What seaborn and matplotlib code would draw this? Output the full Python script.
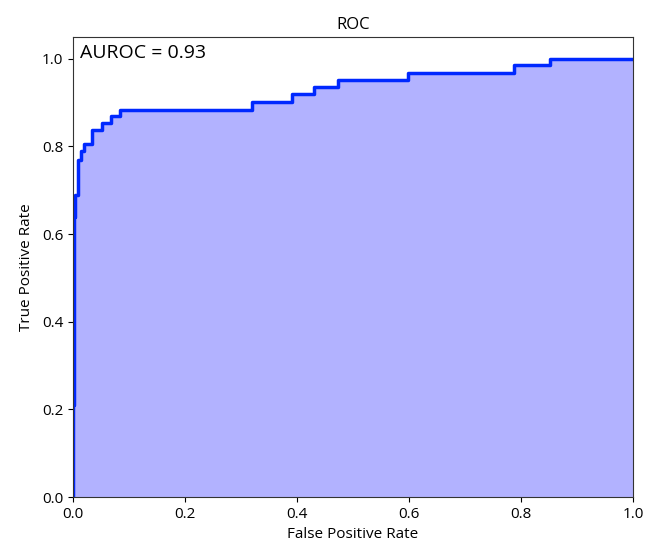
import numpy as np
import pandas as pd
import matplotlib
matplotlib.use("Agg")
import matplotlib.pyplot as plt
import seaborn as sns

# ROC vertices
fpr = [0.0, 0.0, 0.002, 0.002, 0.004, 0.004, 0.009, 0.009, 0.014, 0.014,
       0.020, 0.020, 0.034, 0.034, 0.052, 0.052, 0.068, 0.068, 0.084, 0.084,
       0.320, 0.320, 0.391, 0.391, 0.430, 0.430, 0.473, 0.473, 0.598, 0.598,
       0.788, 0.788, 0.852, 0.852, 1.0]
tpr = [0.0, 0.21, 0.21, 0.64, 0.64, 0.69, 0.69, 0.77, 0.77, 0.79,
       0.79, 0.806, 0.806, 0.838, 0.838, 0.854, 0.854, 0.870, 0.870, 0.884,
       0.884, 0.902, 0.902, 0.920, 0.920, 0.936, 0.936, 0.952, 0.952, 0.968,
       0.968, 0.986, 0.986, 1.0, 1.0]
auroc = 0.93

sns.set_style("ticks", {'text.color': 'black', 'axes.labelcolor': 'black',
                        'xtick.color': 'black', 'ytick.color': 'black',
                        'axes.edgecolor': '#333333'})
plt.rcParams['font.family'] = ['Open Sans', 'DejaVu Sans']

df = pd.DataFrame({'fpr': fpr, 'tpr': tpr})

fig = plt.figure(figsize=(6.6, 5.51), dpi=100)
ax = fig.add_axes([0.1106, 0.098, 0.8485, 0.835])
ax.fill_between(df['fpr'], df['tpr'], color='blue', alpha=0.3, linewidth=0)
sns.lineplot(data=df, x='fpr', y='tpr', sort=False, estimator=None,
             color='#0028ff', linewidth=2.5, ax=ax)
ax.set_xlim(0, 1)
ax.set_ylim(0, 1.05)
ax.set_xlabel('False Positive Rate', fontsize=11)
ax.set_ylabel('True Positive Rate', fontsize=11, labelpad=6)
ax.set_title('ROC', fontsize=12)
ax.tick_params(labelsize=11)
ax.text(0.013, 0.985, f'AUROC = {auroc:.2f}', transform=ax.transAxes,
        fontsize=14, va='top', ha='left', color='black')

fig.savefig('out.png', dpi=100)
